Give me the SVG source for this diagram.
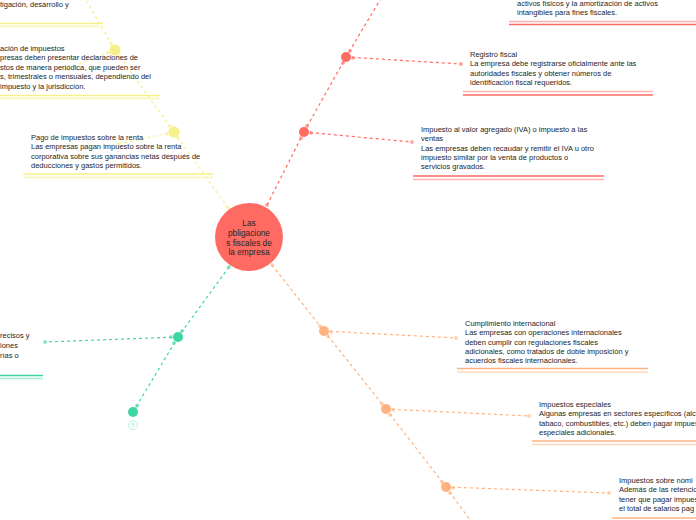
<svg xmlns="http://www.w3.org/2000/svg" width="696" height="520" viewBox="0 0 696 520">
<style>
.t{font-family:"Liberation Sans",Arial,sans-serif;font-size:7.5px;fill:#262626}
.c{font-family:"Liberation Sans",Arial,sans-serif;font-size:8.3px;fill:#262626;text-anchor:middle}
.dy{stroke:#f7f08a;stroke-width:1.2;stroke-dasharray:3 3;fill:none}
.dr{stroke:#ff6b62;stroke-width:1.2;stroke-dasharray:3 3;fill:none}
.dg{stroke:#3dd6a3;stroke-width:1.2;stroke-dasharray:3 3;fill:none}
.do{stroke:#ffb27f;stroke-width:1.2;stroke-dasharray:3 3;fill:none}
.fy{fill:#f7f08a}.fr{fill:#ff6b62}.fg{fill:#3dd6a3}.fo{fill:#ffb27f}
.s{opacity:.55}
</style>
<rect width="696" height="520" fill="#ffffff"/>
<g id="connectors">
<line class="dy" x1="228" y1="208" x2="174" y2="132"/>
<line class="dy" x1="174" y1="132" x2="115" y2="50"/>
<line class="dy" x1="115" y1="50" x2="86" y2="0"/>
<line class="dy" x1="174" y1="132" x2="118" y2="144"/>
<line class="dy" x1="115" y1="50" x2="67" y2="69"/>
<line class="dr" x1="267" y1="205" x2="304" y2="132"/>
<line class="dr" x1="304" y1="132" x2="346" y2="57"/>
<line class="dr" x1="346" y1="57" x2="380" y2="0"/>
<line class="dr" x1="304" y1="132" x2="412" y2="142"/>
<line class="dr" x1="346" y1="57" x2="461" y2="64"/>
<line class="dg" x1="229" y1="267" x2="178" y2="337"/>
<line class="dg" x1="178" y1="337" x2="133" y2="412"/>
<line class="dg" x1="178" y1="337" x2="45" y2="342"/>
<line class="do" x1="272" y1="265" x2="324" y2="331"/>
<line class="do" x1="324" y1="331" x2="386" y2="409"/>
<line class="do" x1="386" y1="409" x2="446" y2="487"/>
<line class="do" x1="446" y1="487" x2="470" y2="520"/>
<line class="do" x1="324" y1="331" x2="456" y2="338"/>
<line class="do" x1="386" y1="409" x2="529" y2="416"/>
<line class="do" x1="446" y1="487" x2="609" y2="493"/>
<circle class="fy s" cx="228" cy="208" r="2"/>
<circle class="fr s" cx="267" cy="205" r="2"/>
<circle class="fg s" cx="229" cy="267" r="2"/>
<circle class="fo s" cx="272" cy="265" r="2"/>
<circle class="fr s" cx="412" cy="142" r="2"/>
<circle class="fr s" cx="461" cy="64" r="2"/>
<circle class="fg s" cx="45" cy="342" r="2"/>
<circle class="fo s" cx="456" cy="338" r="2"/>
<circle class="fo s" cx="529" cy="416" r="2"/>
<circle class="fo s" cx="609" cy="493" r="2"/>
<circle class="fy s" cx="67" cy="69" r="2"/>
<circle class="fy s" cx="118" cy="144" r="2"/>
</g>
<g id="root">
<circle cx="249" cy="237" r="34" fill="#ff6b62"/>
<text class="c" x="249" y="226">Las</text>
<text class="c" x="249" y="236">pbligacione</text>
<text class="c" x="249" y="245.5">s fiscales de</text>
<text class="c" x="249" y="254.5">la empresa</text>
</g>
<g id="n-yellow-1">
<circle class="fy" cx="174" cy="132" r="5.5"/>
<circle class="fy s" cx="178" cy="138" r="2"/><circle class="fy s" cx="170" cy="126" r="2"/><circle class="fy s" cx="167" cy="134" r="2"/>
</g>
<g id="n-yellow-2">
<circle class="fy" cx="115" cy="50" r="5.5"/>
<circle class="fy s" cx="119" cy="56" r="2"/><circle class="fy s" cx="111" cy="44" r="2"/><circle class="fy s" cx="108" cy="53" r="2"/>
</g>
<g id="n-red-1">
<circle class="fr" cx="304" cy="132" r="5"/>
<circle class="fr s" cx="301" cy="138" r="2"/><circle class="fr s" cx="307" cy="126" r="2"/><circle class="fr s" cx="311" cy="133" r="2"/>
</g>
<g id="n-red-2">
<circle class="fr" cx="346" cy="57" r="5"/>
<circle class="fr s" cx="343" cy="63" r="2"/><circle class="fr s" cx="350" cy="51" r="2"/><circle class="fr s" cx="353" cy="58" r="2"/>
</g>
<g id="n-green-1">
<circle class="fg" cx="178" cy="337" r="5"/>
<circle class="fg s" cx="182" cy="331" r="2"/><circle class="fg s" cx="174" cy="343" r="2"/><circle class="fg s" cx="171" cy="337" r="2"/>
</g>
<g id="n-green-2">
<circle class="fg" cx="133" cy="412" r="5"/>
<circle class="fg s" cx="137" cy="406" r="2"/>
<circle cx="133" cy="425" r="4.5" fill="#fff" stroke="#a8ecd3" stroke-width="0.8"/>
<text x="133" y="427.3" font-family="Liberation Sans,Arial,sans-serif" font-size="6" fill="#a8ecd3" text-anchor="middle">5</text>
</g>
<g id="n-orange-1">
<circle class="fo" cx="324" cy="331" r="5"/>
<circle class="fo s" cx="320" cy="326" r="2"/><circle class="fo s" cx="328" cy="336" r="2"/><circle class="fo s" cx="331" cy="332" r="2"/>
</g>
<g id="n-orange-2">
<circle class="fo" cx="386" cy="409" r="5"/>
<circle class="fo s" cx="382" cy="404" r="2"/><circle class="fo s" cx="390" cy="415" r="2"/><circle class="fo s" cx="393" cy="410" r="2"/>
</g>
<g id="n-orange-3">
<circle class="fo" cx="446" cy="487" r="5"/>
<circle class="fo s" cx="442" cy="482" r="2"/><circle class="fo s" cx="450" cy="493" r="2"/><circle class="fo s" cx="453" cy="488" r="2"/>
</g>
<g id="t-investigacion">
<text class="t" x="0" y="6.5">tigación, desarrollo y</text>
<line x1="0" y1="23.5" x2="103" y2="23.5" stroke="#f7f08a" stroke-width="1.5"/>
<line x1="0" y1="26.5" x2="103" y2="26.5" stroke="#faf6b5" stroke-width="1.5"/>
</g>
<g id="t-presentacion">
<text class="t" x="0" y="50.5">ación de impuestos</text>
<text class="t" x="0" y="60">presas deben presentar declaraciones de</text>
<text class="t" x="0" y="69.5">stos de manera periódica, que pueden ser</text>
<text class="t" x="0" y="79">s, trimestrales o mensuales, dependiendo del</text>
<text class="t" x="0" y="88.5"> impuesto y la jurisdicción.</text>
<line x1="0" y1="95.5" x2="160" y2="95.5" stroke="#f7f08a" stroke-width="1.5"/>
<line x1="0" y1="98.5" x2="160" y2="98.5" stroke="#faf6b5" stroke-width="1.5"/>
</g>
<g id="t-renta">
<text class="t" x="31" y="139.5">Pago de impuestos sobre la renta</text>
<text class="t" x="31" y="149">Las empresas pagan impuesto sobre la renta</text>
<text class="t" x="31" y="158.5">corporativa sobre sus ganancias netas después de</text>
<text class="t" x="31" y="168">deducciones y gastos permitidos.</text>
<line x1="23" y1="174" x2="213" y2="174" stroke="#f7f08a" stroke-width="1.5"/>
<line x1="23" y1="177.5" x2="213" y2="177.5" stroke="#faf6b5" stroke-width="1.5"/>
</g>
<g id="t-green">
<text class="t" x="0" y="337.5">recisos y</text>
<text class="t" x="0" y="347.5">iones</text>
<text class="t" x="0" y="357.5">rías o</text>
<line x1="0" y1="375.5" x2="43" y2="375.5" stroke="#3dd6a3" stroke-width="1.5"/>
<line x1="0" y1="378.5" x2="43" y2="378.5" stroke="#a8ecd3" stroke-width="1.5"/>
</g>
<g id="t-amortizacion">
<text class="t" x="517" y="5.5">activos físicos y la amortización de activos</text>
<text class="t" x="517" y="15">intangibles para fines fiscales.</text>
<line x1="509" y1="21.5" x2="696" y2="21.5" stroke="#ffb3ae" stroke-width="1.5"/>
<line x1="509" y1="24.5" x2="696" y2="24.5" stroke="#ff6b62" stroke-width="1.5"/>
</g>
<g id="t-registro">
<text class="t" x="470" y="56.5">Registro fiscal</text>
<text class="t" x="470" y="66">La empresa debe registrarse oficialmente ante las</text>
<text class="t" x="470" y="75.5">autoridades fiscales y obtener números de</text>
<text class="t" x="470" y="84.5">identificación fiscal requeridos.</text>
<line x1="463" y1="91.5" x2="653" y2="91.5" stroke="#ffb3ae" stroke-width="1.5"/>
<line x1="463" y1="95" x2="653" y2="95" stroke="#ff6b62" stroke-width="1.5"/>
</g>
<g id="t-iva">
<text class="t" x="421" y="131.5">Impuesto al valor agregado (IVA) o impuesto a las</text>
<text class="t" x="421" y="141">ventas</text>
<text class="t" x="421" y="150.5">Las empresas deben recaudar y remitir el IVA u otro</text>
<text class="t" x="421" y="160">impuesto similar por la venta de productos o</text>
<text class="t" x="421" y="169">servicios gravados.</text>
<line x1="413" y1="176" x2="604" y2="176" stroke="#ff6b62" stroke-width="1.5"/>
<line x1="413" y1="179.5" x2="604" y2="179.5" stroke="#ffb3ae" stroke-width="1.5"/>
</g>
<g id="t-internacional">
<text class="t" x="465" y="325.5">Cumplimiento internacional</text>
<text class="t" x="465" y="335">Las empresas con operaciones internacionales</text>
<text class="t" x="465" y="344.5">deben cumplir con regulaciones fiscales</text>
<text class="t" x="465" y="354">adicionales, como tratados de doble imposición y</text>
<text class="t" x="465" y="363">acuerdos fiscales internacionales.</text>
<line x1="457" y1="368.5" x2="648" y2="368.5" stroke="#ffb27f" stroke-width="1.5"/>
<line x1="457" y1="372" x2="648" y2="372" stroke="#ffd7bd" stroke-width="1.5"/>
</g>
<g id="t-especiales">
<text class="t" x="539" y="406.5">Impuestos especiales</text>
<text class="t" x="539" y="416">Algunas empresas en sectores específicos (alc</text>
<text class="t" x="539" y="425.5">tabaco, combustibles, etc.) deben pagar impues</text>
<text class="t" x="539" y="435">especiales adicionales.</text>
<line x1="532" y1="441" x2="696" y2="441" stroke="#ffb27f" stroke-width="1.5"/>
<line x1="532" y1="444.5" x2="696" y2="444.5" stroke="#ffd7bd" stroke-width="1.5"/>
</g>
<g id="t-nomina">
<text class="t" x="619" y="482.5">Impuestos sobre nómi</text>
<text class="t" x="619" y="492">Además de las retencio</text>
<text class="t" x="619" y="501.5">tener que pagar impues</text>
<text class="t" x="619" y="510.5">el total de salarios pag</text>
<line x1="612" y1="518" x2="696" y2="518" stroke="#ffb27f" stroke-width="1.5"/>
</g>
</svg>
